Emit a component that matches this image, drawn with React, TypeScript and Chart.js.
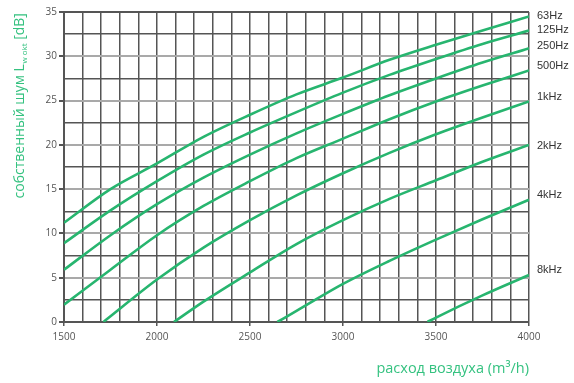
import { useEffect, useRef } from "react";
import { Chart, registerables } from "chart.js";

Chart.register(...registerables);

// Airflow sample points (m³/h)
const airflow = [1500, 1750, 2000, 2250, 2500, 2750, 3000, 3250, 3500, 3750, 4000];

// Sound power level per octave band (dB)
const s63 = [11.2, 15.0, 17.9, 20.9, 23.4, 25.7, 27.6, 29.6, 31.3, 32.9, 34.5];
const s125 = [8.9, 12.6, 15.9, 18.9, 21.4, 23.7, 25.9, 27.9, 29.7, 31.4, 32.9];
const s250 = [5.9, 9.8, 13.3, 16.3, 18.9, 21.3, 23.5, 25.6, 27.5, 29.3, 30.9];
const s500 = [1.95, 5.9, 9.8, 13.1, 15.9, 18.5, 20.7, 22.9, 24.9, 26.7, 28.4];
const s1k = [null, 0.65, 4.8, 8.4, 11.5, 14.3, 16.8, 19.1, 21.2, 23.1, 24.9];
const s2k = [null, null, null, 2.3, 5.6, 8.8, 11.5, 13.9, 16.0, 18.1, 20.0];
const s4k = [null, null, null, null, null, 1.25, 4.3, 6.9, 9.3, 11.6, 13.8];
const s8k = [null, null, null, null, null, null, null, null, 0.5, 3.0, 5.3];

// Airflow where a curve starts at 0 dB
const zeroCrossing = [null, null, null, null, 1712, 2091, 2647, 3454];

const bandLabels = ["63Hz", "125Hz", "250Hz", "500Hz", "1kHz", "2kHz", "4kHz", "8kHz"];
const labelLevels = [34.6, 33.0, 31.2, 28.9, 25.4, 19.9, 14.3, 5.9];

const xTitle = "расход воздуха (m³/h)";
const yTitleMain = "собственный шум L";
const yTitleSub = "w okt";
const yTitleEnd = " [dB]";

const LINE = "#27b56f";
const TEXT_GREEN = "#35c280";
const DARK = "#555555";
const LIGHT = "#a9a9a9";

export default function App() {
  const ref = useRef<HTMLCanvasElement>(null);

  useEffect(() => {
    if (!ref.current) return;
    const series = [s63, s125, s250, s500, s1k, s2k, s4k, s8k];
    const datasets = series.map((vals, i) => {
      const pts: { x: number; y: number }[] = [];
      const z = zeroCrossing[i];
      if (z != null) pts.push({ x: z, y: 0 });
      vals.forEach((v, j) => {
        if (v != null) pts.push({ x: airflow[j], y: v as number });
      });
      return {
        label: bandLabels[i],
        data: pts,
        borderColor: LINE,
        backgroundColor: LINE,
        borderWidth: 2.6,
        pointRadius: 0,
        cubicInterpolationMode: "monotone" as const,
        fill: false,
      };
    });

    const bandLabelPlugin = {
      id: "bandLabels",
      afterDraw(chart: any) {
        const ctx = chart.ctx;
        const y = chart.scales.y;
        ctx.save();
        ctx.font = '11px "Liberation Sans", Arial, sans-serif';
        ctx.fillStyle = "#333333";
        ctx.textBaseline = "middle";
        ctx.textAlign = "left";
        bandLabels.forEach((t, i) => {
          ctx.fillText(t, chart.chartArea.right + 8, y.getPixelForValue(labelLevels[i]));
        });
        ctx.restore();
      },
    };

    const yTitlePlugin = {
      id: "yTitle",
      afterDraw(chart: any) {
        const ctx = chart.ctx;
        ctx.save();
        const mainFont = '14px "Open Sans", sans-serif';
        const subFont = '8px "Open Sans", sans-serif';
        ctx.font = mainFont;
        const w1 = ctx.measureText(yTitleMain).width;
        const w3 = ctx.measureText(yTitleEnd).width;
        ctx.font = subFont;
        const w2 = ctx.measureText(yTitleSub).width;
        const total = w1 + w2 + w3;
        const cy = (chart.chartArea.top + 200) / 2;
        ctx.translate(19, cy + total / 2);
        ctx.rotate(-Math.PI / 2);
        ctx.fillStyle = TEXT_GREEN;
        ctx.textBaseline = "alphabetic";
        ctx.textAlign = "left";
        ctx.font = mainFont;
        ctx.fillText(yTitleMain, 0, 5);
        ctx.font = subFont;
        ctx.fillText(yTitleSub, w1 + 0.5, 8);
        ctx.font = mainFont;
        ctx.fillText(yTitleEnd, w1 + w2 + 0.5, 5);
        ctx.restore();
      },
    };

    const chart = new Chart(ref.current, {
      type: "line",
      data: { datasets },
      plugins: [bandLabelPlugin, yTitlePlugin],
      options: {
        responsive: false,
        animation: false,
        devicePixelRatio: 1,
        layout: { padding: { top: 12, right: 45, left: 0, bottom: 0 } },
        plugins: { legend: { display: false }, tooltip: { enabled: false } },
        scales: {
          x: {
            type: "linear",
            min: 1500,
            max: 4000,
            afterFit(scale: any) {
              scale.height = 61;
            },
            ticks: {
              stepSize: 100,
              autoSkip: false,
              maxRotation: 0,
              padding: 5,
              color: "#555",
              font: { family: "Open Sans", size: 10 },
              callback: (v: any) => (Number(v) % 500 === 0 ? String(v) : ""),
            },
            grid: {
              color: DARK,
              lineWidth: 1.5,
              tickLength: 4,
              tickColor: (c: any) => (c.tick && c.tick.value % 500 === 0 ? DARK : "rgba(0,0,0,0)"),
            },
            border: { color: DARK, width: 2 },
            title: {
              display: true,
              text: xTitle,
              align: "end",
              color: TEXT_GREEN,
              font: { family: "Open Sans", size: 14.5 },
              padding: { top: 0, bottom: 5 },
            },
          },
          y: {
            type: "linear",
            min: 0,
            max: 35,
            afterFit(scale: any) {
              scale.width = 64;
            },
            ticks: {
              stepSize: 2.5,
              autoSkip: false,
              padding: 2,
              color: "#555",
              font: { family: "Open Sans", size: 10 },
              callback: (v: any) => (Number(v) % 5 === 0 ? String(v) : ""),
            },
            grid: {
              color: (c: any) => {
                const v = c.tick ? c.tick.value : 0;
                if (v === 35) return DARK;
                return v % 5 === 0 ? LIGHT : DARK;
              },
              lineWidth: (c: any) => {
                const v = c.tick ? c.tick.value : 0;
                if (v === 35) return 2;
                return v % 5 === 0 ? 2 : 1.5;
              },
              tickLength: 5,
              tickColor: (c: any) => (c.tick && c.tick.value % 5 === 0 ? DARK : "rgba(0,0,0,0)"),
            },
            border: { color: DARK, width: 2 },
          },
        },
      },
    });
    return () => chart.destroy();
  }, []);

  return (
    <div style={{ position: "fixed", left: 0, top: 0, width: 574, height: 383, background: "#fff" }}>
      <canvas ref={ref} width={574} height={383} />
    </div>
  );
}
